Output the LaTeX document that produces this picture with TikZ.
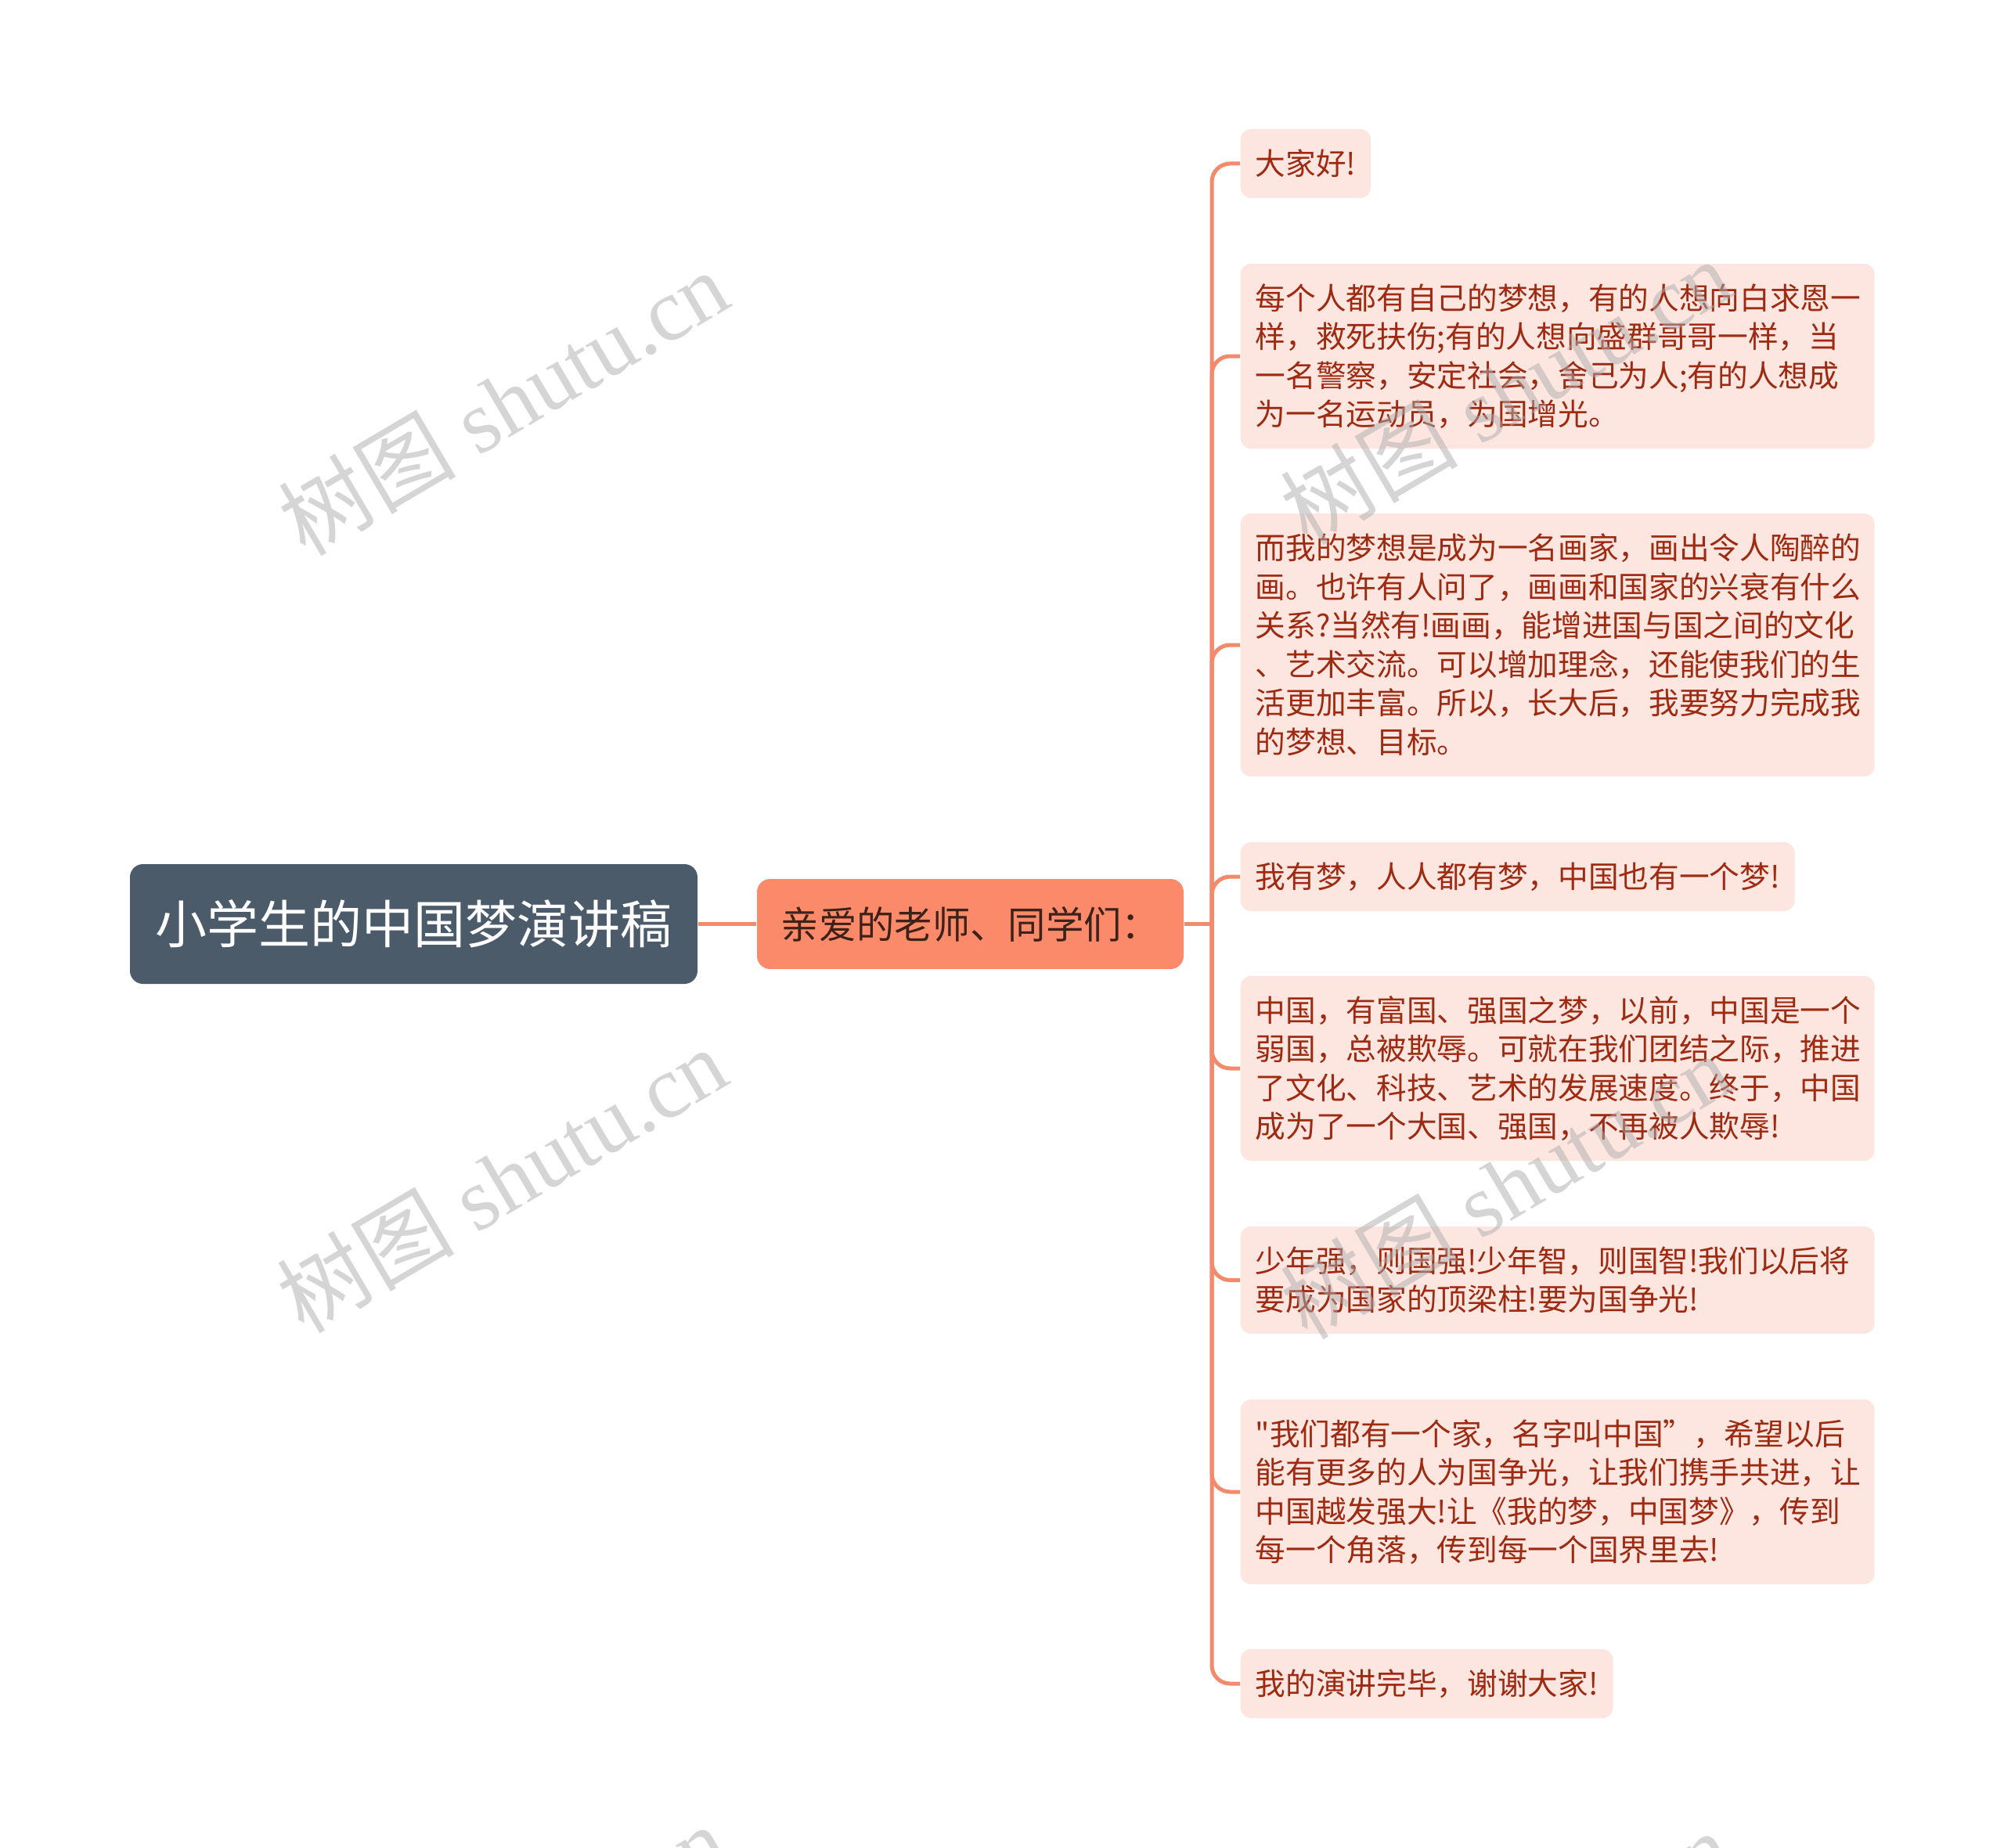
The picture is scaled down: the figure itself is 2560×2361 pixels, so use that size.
\documentclass[tikz,border=0pt]{standalone}
\usepackage{fontspec}
\setmainfont{Noto Sans CJK SC}[Ligatures=TeXOff]
\newfontfamily\wmlatin{Liberation Serif}
\newfontfamily\wmcjk{Noto Sans CJK SC}
\definecolor{rootfill}{HTML}{4B5B6A}
\definecolor{childfill}{HTML}{FA8A6A}
\definecolor{childtext}{HTML}{3E2219}
\definecolor{leaffill}{HTML}{FDE6E0}
\definecolor{leaftext}{HTML}{9E2A12}
\definecolor{connc}{HTML}{F38A6C}
\definecolor{wmgray}{HTML}{ADADAD}
\tikzset{
  rootbox/.style={fill=rootfill, text=white, rounded corners=5pt, minimum width=217.5pt, minimum height=45.9pt, inner sep=0pt, font=\fontsize{19.8pt}{24pt}\selectfont},
  childbox/.style={fill=childfill, text=childtext, rounded corners=5pt, minimum width=163.5pt, minimum height=34.5pt, inner sep=0pt, font=\fontsize{14.5pt}{18pt}\selectfont},
  leafbox/.style={fill=leaffill, text=leaftext, rounded corners=4pt, inner xsep=5.7pt, inner ysep=0pt, anchor=west, font=\fontsize{11.6pt}{14.85pt}\selectfont},
  wideleaf/.style={leafbox, text width=231.6pt, align=left},
  conn/.style={draw=connc, line width=1.5pt},
  wmark/.style={text=wmgray, opacity=0.5, rotate=30.5, inner sep=0pt}
}
\begin{document}
\begin{tikzpicture}[x=0.3pt, y=-0.3pt]
\useasboundingbox (0,0) rectangle (2560,2361);
\fill[white] (0,0) rectangle (2560,2361);

\node[rootbox] (root) at (528.5,1180.5) {小学生的中国梦演讲稿};
\node[childbox] (child) at (1239.5,1180.5) {亲爱的老师、同学们：};
\coordinate (tr) at (1548,1180.5);

\node[leafbox, minimum height=26.4pt] (l1) at (1584,209) {大家好!};
\node[wideleaf, minimum height=70.8pt] (l2) at (1584,455) {每个人都有自己的梦想，有的人想向白求恩一\\样，救死扶伤;有的人想向盛群哥哥一样，当\\一名警察，安定社会，舍己为人;有的人想成\\为一名运动员，为国增光。};
\node[wideleaf, minimum height=100.8pt] (l3) at (1584,824) {而我的梦想是成为一名画家，画出令人陶醉的\\画。也许有人问了，画画和国家的兴衰有什么\\关系?当然有!画画，能增进国与国之间的文化\\、艺术交流。可以增加理念，还能使我们的生\\活更加丰富。所以，长大后，我要努力完成我\\的梦想、目标。};
\node[leafbox, minimum height=26.4pt] (l4) at (1584,1120) {我有梦，人人都有梦，中国也有一个梦!};
\node[wideleaf, minimum height=70.8pt] (l5) at (1584,1365) {中国，有富国、强国之梦，以前，中国是一个\\弱国，总被欺辱。可就在我们团结之际，推进\\了文化、科技、艺术的发展速度。终于，中国\\成为了一个大国、强国，不再被人欺辱!};
\node[wideleaf, minimum height=41.1pt] (l6) at (1584,1635.5) {少年强，则国强!少年智，则国智!我们以后将\\要成为国家的顶梁柱!要为国争光!};
\node[wideleaf, minimum height=70.8pt] (l7) at (1584,1906) {"我们都有一个家，名字叫中国”，希望以后\\能有更多的人为国争光，让我们携手共进，让\\中国越发强大!让《我的梦，中国梦》，传到\\每一个角落，传到每一个国界里去!};
\node[leafbox, minimum height=26.4pt] (l8) at (1584,2151) {我的演讲完毕，谢谢大家!};

\draw[conn] (root.east) -- (child.west);
\draw[conn] (child.east) -- (tr);
\foreach \l in {l1,l2,l3,l4,l5,l6,l7,l8}
  \draw[conn, rounded corners=7pt] (tr) |- (\l.west);

\begin{scope}
\clip (0,0) rectangle (2560,2361);
\foreach \p/\q [count=\i] in {643/514, 641/1507, 1923/500, 1923/1515, 641/2500, 1923/2508}
  \node[wmark] (wm\i) at (\p,\q) {\fontsize{34pt}{38pt}\selectfont\wmcjk 树图\wmlatin{} shutu.cn};
\end{scope}
\end{tikzpicture}
\end{document}
